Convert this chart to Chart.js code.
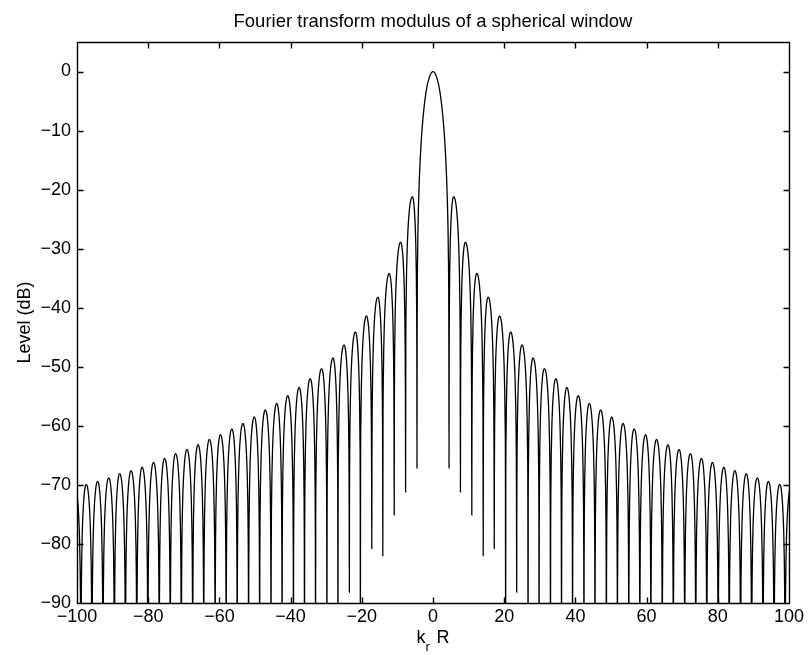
<!DOCTYPE html>
<html>
<head>
<meta charset="utf-8">
<script src="https://cdn.jsdelivr.net/npm/chart.js@4.4.0/dist/chart.umd.min.js"></script>
<style>
  html, body { margin: 0; padding: 0; background: #fff; }
  #wrap { position: relative; width: 808px; height: 655px; }
</style>
</head>
<body>
<div id="wrap"><canvas id="fourierChart"></canvas></div>
<script>
// Values for the positive k_r R side; the picture is mirror-symmetric.
const mainLobeX = [0, 1, 2, 3, 3.5, 4, 4.3, 4.45];
const mainLobeDb = [0, -0.9, -3.6, -9.2, -13.8, -21.2, -30.3, -44.0];

// nulls between lobes and how deep the sampled curve dips there (-100 = off the bottom)
const nullX = [4.5, 7.7, 10.9, 14.1, 17.2, 20.4, 23.5, 26.7, 29.8, 33.0, 36.1, 39.2, 42.4, 45.5, 48.7, 51.8,
    55.0, 58.1, 61.2, 64.4, 67.5, 70.7, 73.8, 76.9, 80.1, 83.2, 86.4, 89.5, 92.7, 95.8, 98.9, 102.1];
const nullDb = [-67.2, -71.2, -75.1, -82.0, -80.8, -100, -88.2, -100, -100, -100, -100, -100, -100, -100, -100, -100,
    -100, -100, -100, -100, -100, -100, -100, -100, -100, -100, -100, -100, -100, -100, -100, -100];

// side lobe tops
const lobePeakX = [5.8, 9.1, 12.3, 15.5, 18.7, 21.8, 25.0, 28.1, 31.3, 34.5, 37.6, 40.8, 43.9, 47.1, 50.2, 53.4,
    56.5, 59.7, 62.8, 66.0, 69.1, 72.3, 75.4, 78.5, 81.7, 84.8, 88.0, 91.1, 94.2, 97.4, 100.5];
const lobePeakDb = [-21.2, -28.9, -34.2, -38.2, -41.4, -44.1, -46.3, -48.5, -50.3, -52.0, -53.5, -54.9, -56.2, -57.3, -58.5, -59.6,
    -60.5, -61.5, -62.3, -63.2, -64.0, -64.7, -65.5, -66.2, -67.0, -67.6, -68.1, -68.8, -69.4, -69.9, -70.5];

// profile of one side lobe: share of the way from top to null, and dB below the top
const lobeShapeT = [0, 0.2, 0.4, 0.6, 0.75, 0.85, 0.92, 0.97];
const lobeShapeDb = [0, -0.4, -1.8, -4.6, -8.3, -12.6, -18.0, -26.5];

const xTicks = [-100, -80, -60, -40, -20, 0, 20, 40, 60, 80, 100];
const yTicks = [-90, -80, -70, -60, -50, -40, -30, -20, -10, 0];

const FONT = '"Liberation Sans", Arial, Helvetica, sans-serif';
const TICK_LEN = 6;

function buildHalfCurve() {
    const pts = mainLobeX.map((x, i) => ({ x: x, y: mainLobeDb[i] }));
    lobePeakX.forEach((c, i) => {
        const left = nullX[i];
        const right = nullX[i + 1];
        pts.push({ x: left, y: nullDb[i] });
        for (let j = lobeShapeT.length - 1; j > 0; j--) {
            pts.push({ x: c - lobeShapeT[j] * (c - left), y: lobePeakDb[i] + lobeShapeDb[j] });
        }
        pts.push({ x: c, y: lobePeakDb[i] });
        for (let j = 1; j < lobeShapeT.length; j++) {
            pts.push({ x: c + lobeShapeT[j] * (right - c), y: lobePeakDb[i] + lobeShapeDb[j] });
        }
    });
    pts.push({ x: nullX[nullX.length - 1], y: nullDb[nullDb.length - 1] });
    return pts;
}

const halfCurve = buildHalfCurve();
const curve = halfCurve.slice(1).reverse().map(p => ({ x: -p.x, y: p.y })).concat(halfCurve);

const minusLabel = (value) => String(value).replace('-', '\u2212');

const frameAndLabels = {
    id: 'frameAndLabels',
    afterDraw(chart) {
        const { ctx, chartArea: a, scales } = chart;
        const left = Math.round(a.left) + 0.5;
        const right = Math.round(a.right) + 0.5;
        const top = Math.round(a.top) + 0.5;
        const bottom = Math.round(a.bottom) + 0.5;

        ctx.save();
        ctx.strokeStyle = '#000';
        ctx.lineWidth = 1.4;
        ctx.beginPath();
        ctx.rect(left, top, right - left, bottom - top);
        xTicks.forEach((v) => {
            const px = Math.round(scales.x.getPixelForValue(v)) + 0.5;
            ctx.moveTo(px, bottom); ctx.lineTo(px, bottom - TICK_LEN);
            ctx.moveTo(px, top); ctx.lineTo(px, top + TICK_LEN);
        });
        yTicks.forEach((v) => {
            const py = Math.round(scales.y.getPixelForValue(v)) + 0.5;
            ctx.moveTo(left, py); ctx.lineTo(left + TICK_LEN, py);
            ctx.moveTo(right, py); ctx.lineTo(right - TICK_LEN, py);
        });
        ctx.stroke();

        ctx.fillStyle = '#000';
        ctx.font = '18.5px ' + FONT;
        ctx.textAlign = 'center';
        ctx.textBaseline = 'alphabetic';
        ctx.fillText('Fourier transform modulus of a spherical window', (a.left + a.right) / 2, 27);

        // x label: k with subscript r, then R
        ctx.font = '18px ' + FONT;
        ctx.textAlign = 'left';
        ctx.fillText('k', 416.5, 643);
        ctx.font = '13px ' + FONT;
        ctx.fillText('r', 425.5, 651);
        ctx.font = '18px ' + FONT;
        ctx.fillText('R', 436.5, 643);

        ctx.translate(30, (a.top + a.bottom) / 2);
        ctx.rotate(-Math.PI / 2);
        ctx.textAlign = 'center';
        ctx.fillText('Level (dB)', 0, 0);
        ctx.restore();
    }
};

const ctx = document.getElementById('fourierChart').getContext('2d');
new Chart(ctx, {
    type: 'line',
    data: {
        datasets: [{
            data: curve,
            borderColor: '#000',
            borderWidth: 1.3,
            pointRadius: 0,
            fill: false,
            cubicInterpolationMode: 'monotone',
        }]
    },
    options: {
        responsive: true,
        maintainAspectRatio: false,
        animation: false,
        layout: { padding: { left: 0, right: 19, top: 42, bottom: 0 } },
        plugins: {
            legend: { display: false },
            tooltip: { enabled: false },
        },
        scales: {
            x: {
                type: 'linear',
                min: -100,
                max: 100,
                afterBuildTicks: (scale) => { scale.ticks = xTicks.map(v => ({ value: v })); },
                afterFit: (scale) => { scale.height = 52; },
                grid: { display: false, drawTicks: false },
                border: { display: false },
                ticks: {
                    color: '#000',
                    font: { family: FONT, size: 18 },
                    padding: 3,
                    maxRotation: 0,
                    autoSkip: false,
                    callback: minusLabel,
                },
            },
            y: {
                min: -90,
                max: 5,
                afterBuildTicks: (scale) => { scale.ticks = yTicks.map(v => ({ value: v })); },
                afterFit: (scale) => { scale.width = 77; },
                grid: { display: false, drawTicks: false },
                border: { display: false },
                ticks: {
                    color: '#000',
                    font: { family: FONT, size: 18 },
                    padding: 6,
                    autoSkip: false,
                    callback: minusLabel,
                },
            },
        },
    },
    plugins: [frameAndLabels],
});
</script>
</body>
</html>
